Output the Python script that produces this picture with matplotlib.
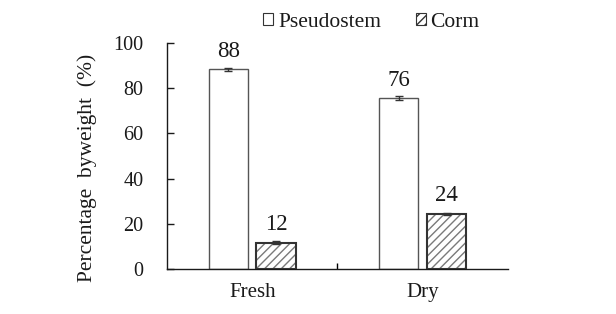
import matplotlib
matplotlib.use("Agg")
import matplotlib.pyplot as plt
import numpy as np
from matplotlib.patches import Patch

categories = ["Fresh", "Dry"]
series = ["Pseudostem", "Corm"]
pseudostem = [88.3, 75.6]
pseudostem_err = [0.6, 1.0]
corm = [11.7, 24.4]
corm_err = [0.6, 0.6]
yticks = [0, 20, 40, 60, 80, 100]

plt.rcParams['font.family'] = ['Liberation Serif', 'DejaVu Serif']
plt.rcParams['hatch.linewidth'] = 1.0

fig = plt.figure(figsize=(6.16, 3.14), dpi=100)
ax = fig.add_axes([0.271, 0.1433, 0.5536, 0.7197])

x = np.arange(len(categories))
w = 0.23
off = 0.14

# Pseudostem bars
ax.bar(x - off, pseudostem, w, color='white', edgecolor='#555555', linewidth=1.0, zorder=2)
# Corm bars: hatch layer + outline
ax.bar(x + off, corm, w, color='white', edgecolor='#7a7a7a', hatch='////', linewidth=0, zorder=2)
ax.bar(x + off, corm, w, fill=False, edgecolor='#333333', linewidth=1.5, zorder=3)

ax.errorbar(x - off, pseudostem, yerr=pseudostem_err, fmt='none', ecolor='#333333',
            elinewidth=1.0, capsize=3, capthick=1.0, zorder=4)
ax.errorbar(x + off, corm, yerr=corm_err, fmt='none', ecolor='#333333',
            elinewidth=1.0, capsize=3, capthick=1.0, zorder=4)

for xi, v in zip(x - off, pseudostem):
    ax.annotate(f"{v:.0f}", (xi, v), xytext=(0, 9), textcoords='offset points',
                ha='center', va='baseline', fontsize=16.5, color='#1a1a1a')
for xi, v in zip(x + off, corm):
    ax.annotate(f"{v:.0f}", (xi, v), xytext=(0, 9), textcoords='offset points',
                ha='center', va='baseline', fontsize=16.5, color='#1a1a1a')

ax.set_xlim(-0.5, 1.5)
ax.set_ylim(0, 100)
ax.set_yticks(yticks)
ax.tick_params(axis='y', direction='in', length=5, width=1, pad=17, labelsize=14.5,
               colors='#1a1a1a')
ax.set_xticks([0.5])
ax.set_xticklabels([""])
ax.tick_params(axis='x', which='major', direction='in', length=4, width=1)
ax.set_xticks(x, minor=True)
ax.set_xticklabels(categories, minor=True)
ax.tick_params(axis='x', which='minor', length=0, pad=10, labelsize=15, labelcolor='#1a1a1a')

for s in ['top', 'right']:
    ax.spines[s].set_visible(False)
for s in ['left', 'bottom']:
    ax.spines[s].set_linewidth(1.0)
    ax.spines[s].set_color('#1a1a1a')

ax.set_ylabel("Percentage  byweight  (%)", fontsize=15.5, color='#1a1a1a')
ax.yaxis.set_label_coords(-0.205, 0.449)

handles = [Patch(facecolor='white', edgecolor='#333333', linewidth=0.8),
           Patch(facecolor='white', edgecolor='#333333', hatch='////', linewidth=0.8)]
fig.legend(handles, series, loc='upper left', bbox_to_anchor=(263 / 616, 0.96),
           ncol=2, frameon=False, fontsize=15.5, borderpad=0, borderaxespad=0,
           handlelength=0.47, handleheight=0.47, handletextpad=0.23, columnspacing=1.6,
           labelcolor='#1a1a1a')

fig.savefig("out.png", dpi=100)
